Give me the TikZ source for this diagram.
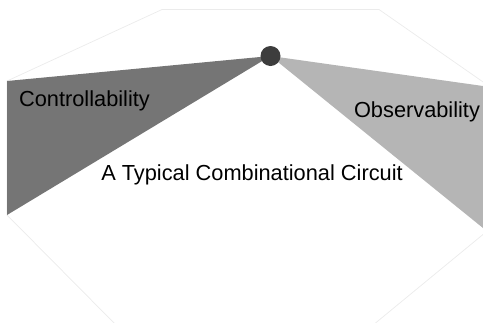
\documentclass[tikz,border=0pt]{standalone}
\usepackage{fontspec}
\setmainfont{Liberation Sans}
\usepackage{tikz}

\begin{document}
\begin{tikzpicture}[x=0.02cm, y=-0.02cm,
    lbl/.style={inner sep=0pt, anchor=base, font=\fontsize{12.4}{15}\selectfont}]
                    \useasboundingbox (0,0) rectangle (483,322);
                    % Outline
                    \begin{scope}
                    \clip (0,0) rectangle (483,322);
                    \draw[black!8, line width=0.4pt] (7,81) -- (162,9.5) -- (379,9.5) -- (486,84)
                        -- (486,232) -- (367,330) -- (121,330) -- (7,215) -- cycle;
                    \end{scope}
                    % Corners
                    \coordinate (hub) at (270.5,56);
                    \coordinate (ctop) at (7,81);
                    \coordinate (cbot) at (7,215);
                    \coordinate (otop) at (483,86);
                    \coordinate (obot) at (483,228);
                    % Cones
                    \fill[black!54] (ctop) -- (hub) -- (cbot) -- cycle;
                    \fill[black!29] (hub) -- (otop) -- (obot) -- cycle;
                    % Nodes
                    \node[circle, fill=black!76, inner sep=0pt, minimum size=0.4cm] (dot) at (hub) {};
                    \node[lbl] (ctrl) at (84.5,106) {Controllability};
                    \node[lbl] (obs) at (417,117) {Observability};
                    \node[lbl] (circ) at (252,180) {A Typical Combinational Circuit};
                \end{tikzpicture}
\end{document}
